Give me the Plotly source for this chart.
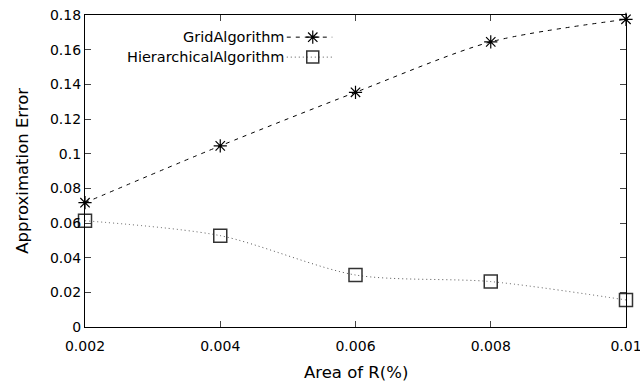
import plotly.graph_objects as go

# Query region area (% of the space) and the measured approximation error
area = [0.002, 0.004, 0.006, 0.008, 0.010]
area_labels = ["0.002", "0.004", "0.006", "0.008", "0.01"]
grid_err = [0.0717, 0.1045, 0.1354, 0.1645, 0.1775]
hier_err = [0.0613, 0.0527, 0.0300, 0.0262, 0.0156]
err_ticks = [0, 0.02, 0.04, 0.06, 0.08, 0.10, 0.12, 0.14, 0.16, 0.18]
err_labels = ["0", "0.02", "0.04", "0.06", "0.08", "0.1", "0.12", "0.14", "0.16", "0.18"]

FONT = "DejaVu Sans"

fig = go.Figure()

fig.add_trace(go.Scatter(
    x=area, y=grid_err, mode="lines+markers", name="GridAlgorithm",
    line=dict(color="black", width=1, dash="4px,5px", shape="spline", smoothing=0.8),
    marker=dict(symbol="asterisk-open", size=11, color="black", line=dict(color="black", width=1.2)),
    cliponaxis=False, showlegend=False,
))
fig.add_trace(go.Scatter(
    x=area, y=hier_err, mode="lines+markers", name="HierarchicalAlgorithm",
    line=dict(color="#555555", width=1, dash="1px,3px", shape="spline", smoothing=0.8),
    marker=dict(symbol="square-open", size=13, color="#333333", line=dict(color="#333333", width=1.5)),
    cliponaxis=False, showlegend=False,
))

# Key in the upper-left corner: label text followed by a line sample with its marker
key_rows = [
    ("GridAlgorithm", 0.929, dict(color="black", width=1, dash="4px,5px"),
     dict(symbol="asterisk-open", size=11, color="black", line=dict(color="black", width=1.2))),
    ("HierarchicalAlgorithm", 0.865, dict(color="#555555", width=1, dash="1px,3px"),
     dict(symbol="square-open", size=12, color="#333333", line=dict(color="#333333", width=1.5))),
]
for label, ky, kline, kmarker in key_rows:
    fig.add_trace(go.Scatter(
        x=[0.373, 0.457], y=[ky, ky], mode="lines", line=kline,
        xaxis="x2", yaxis="y2", showlegend=False, hoverinfo="skip",
    ))
    fig.add_trace(go.Scatter(
        x=[0.421], y=[ky], mode="markers", marker=kmarker,
        xaxis="x2", yaxis="y2", showlegend=False, hoverinfo="skip",
    ))
    fig.add_annotation(
        xref="paper", yref="paper", x=0.372, y=ky, text=label, showarrow=False,
        xanchor="right", yanchor="middle", font=dict(family=FONT, size=14.5, color="black"),
    )

# Axis titles, placed relative to the plotting area
fig.add_annotation(
    xref="paper", yref="paper", x=0.5, y=-0.147, text="Area of R(%)", showarrow=False,
    xanchor="center", yanchor="middle", font=dict(family=FONT, size=16.5, color="black"),
)
fig.add_annotation(
    xref="paper", yref="paper", x=-0.117, y=0.5, text="Approximation Error", showarrow=False,
    textangle=-90, xanchor="center", yanchor="middle",
    font=dict(family=FONT, size=16.5, color="black"),
)

axis_common = dict(
    showgrid=False, zeroline=False, showline=True, linecolor="black", linewidth=1.2,
    mirror="ticks", ticks="inside", ticklen=6, tickcolor="#444444", tickwidth=1,
    tickfont=dict(family=FONT, size=14, color="black"), automargin=False,
)

fig.update_layout(
    width=640, height=383,
    margin=dict(l=85, r=14, t=15, b=56),
    paper_bgcolor="white", plot_bgcolor="white",
    font=dict(family=FONT, color="black"),
    xaxis=dict(
        range=[0.0019999, 0.0100001], tickvals=area, ticktext=area_labels,
        ticklabelstandoff=6, ticklabeloverflow="allow",
        **axis_common,
    ),
    yaxis=dict(
        range=[0, 0.18], tickvals=err_ticks, ticktext=err_labels,
        **axis_common,
    ),
    xaxis2=dict(overlaying="x", range=[0, 1], visible=False, fixedrange=True),
    yaxis2=dict(overlaying="y", range=[0, 1], visible=False, fixedrange=True),
)

fig.write_html("out.html")
